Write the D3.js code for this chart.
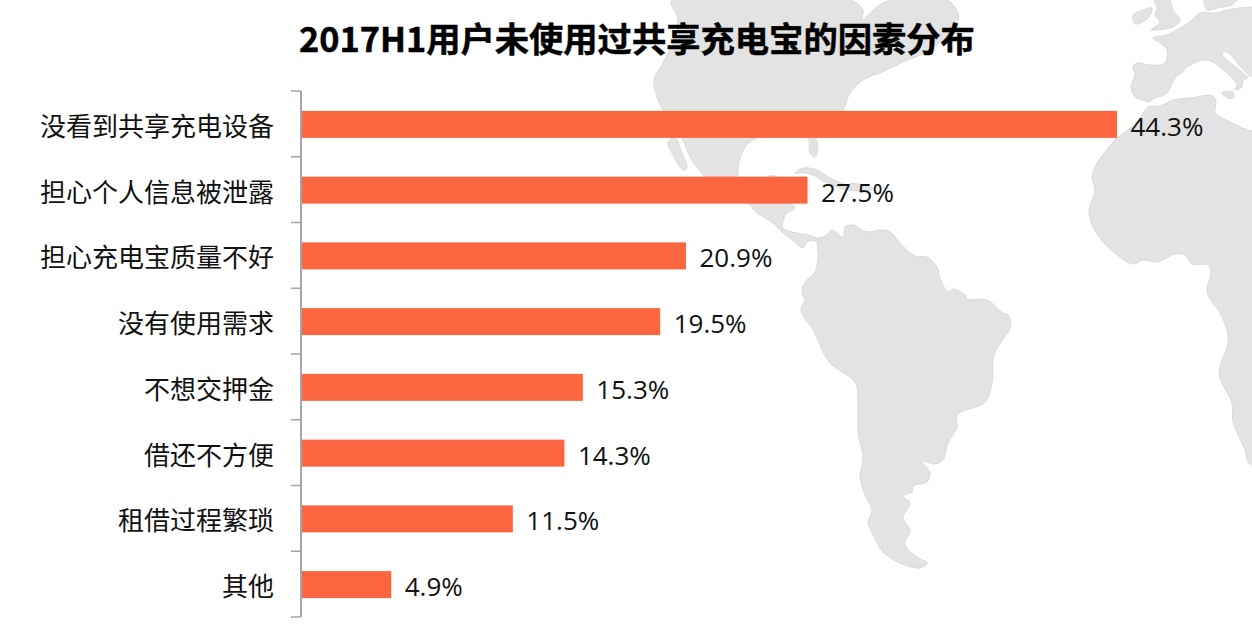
<!DOCTYPE html>
<html>
<head>
<meta charset="utf-8">
<script src="https://cdn.jsdelivr.net/npm/d3@7"></script>
<style>
  html, body { margin: 0; padding: 0; background: #fff; }
  svg { display: block; }
  text { font-family: "Noto Sans CJK SC", "Open Sans", sans-serif; fill: #111; }
</style>
</head>
<body>
<div id="chart"></div>
<script>
// Chart data
var chartTitle = "2017H1用户未使用过共享充电宝的因素分布";
var categories = ["没看到共享充电设备", "担心个人信息被泄露", "担心充电宝质量不好", "没有使用需求", "不想交押金", "借还不方便", "租借过程繁琐", "其他"];
var values = [44.3, 27.5, 20.9, 19.5, 15.3, 14.3, 11.5, 4.9];

// Background world map outlines, traced by hand in page pixels
var northAmerica = [[672,0],[678,20],[673,43],[663,63],[654,80],[657,97],[663,110],[672,125],[682,138],[690,157],[703,175],[720,197],[747,203],[757,213],[773,223],[783,233],[790,238],[803,248],[807,242],[815,241],[820,246],[827,236],[818,238],[808,235],[797,233],[783,228],[786,214],[795,208],[792,204],[785,195],[775,176],[765,178],[760,197],[745,195],[738,173],[745,147],[757,138],[790,130],[808,138],[810,153],[815,157],[818,147],[817,138],[830,125],[843,110],[850,93],[863,80],[882,72],[903,62],[930,50],[957,23],[958,13],[947,0],[890,0],[873,10],[870,13],[862,20],[863,10],[850,0]];
var baja = [[668,142],[675,138],[682,153],[687,168],[683,170],[673,155]];
var cuba = [[795,173],[803,168],[817,170],[830,178],[847,185],[867,190],[847,190],[827,183],[813,175],[803,173]];
var hispaniola = [[850,184],[863,185],[873,189],[862,191],[852,189]];
var southAmerica = [[818,243],[827,235],[832,230],[843,237],[845,227],[853,225],[867,232],[880,230],[890,232],[902,245],[915,256],[927,257],[937,267],[940,278],[948,292],[953,289],[965,295],[967,299],[987,300],[1003,313],[1008,315],[1011,325],[994,355],[992,383],[985,402],[957,415],[957,427],[948,443],[943,460],[935,464],[922,461],[930,473],[927,482],[913,486],[912,492],[903,496],[910,503],[903,518],[910,530],[905,545],[917,557],[927,563],[920,568],[900,563],[883,552],[872,532],[868,523],[872,510],[865,495],[860,477],[863,457],[858,433],[858,403],[855,382],[830,363],[813,330],[801,310],[805,300],[802,293],[805,282],[815,272],[818,257]];
var africa = [[1148,107],[1160,106],[1173,100],[1190,98],[1213,96],[1216,103],[1215,112],[1230,122],[1252,131],[1262,131],[1262,470],[1252,465],[1248,462],[1245,450],[1233,422],[1232,403],[1220,378],[1220,367],[1228,343],[1227,330],[1220,313],[1207,292],[1211,273],[1208,265],[1192,264],[1185,255],[1175,254],[1157,262],[1143,260],[1133,264],[1108,247],[1093,227],[1089,210],[1095,190],[1092,177],[1097,163],[1109,147],[1117,138],[1128,130],[1140,118]];
var europe = [[1252,7],[1227,10],[1217,13],[1200,13],[1190,22],[1180,28],[1167,35],[1153,38],[1160,43],[1167,50],[1165,63],[1150,65],[1137,63],[1133,67],[1135,75],[1131,87],[1135,97],[1143,100],[1148,102],[1155,98],[1167,93],[1175,78],[1183,72],[1187,67],[1207,60],[1227,73],[1237,85],[1235,90],[1242,87],[1243,80],[1248,78],[1237,68],[1225,58],[1222,53],[1227,52],[1240,66],[1252,77],[1262,77],[1262,7]];
var ireland = [[1133,15],[1143,10],[1152,8],[1148,18],[1135,24]];
var britain = [[1152,-6],[1167,-6],[1173,10],[1180,20],[1173,27],[1157,30],[1151,30],[1160,22],[1155,15],[1157,8]];
var scandinavia = [[1205,-6],[1207,10],[1217,8],[1233,4],[1240,-6]];
var sicily = [[1222,93],[1233,92],[1233,98],[1228,98]];
var landShapes = [northAmerica, baja, cuba, hispaniola, southAmerica, africa, europe, ireland, britain, scandinavia, sicily];

var width = 1252, height = 642;
var axisX = 301, axisTop = 91, axisBottom = 617;

var svg = d3.select("#chart").append("svg")
    .attr("width", width)
    .attr("height", height);

// Map goes in first so the bars sit on top of it
var outline = d3.line().curve(d3.curveCatmullRomClosed.alpha(0.5));
svg.append("g").selectAll("path")
    .data(landShapes)
    .join("path")
    .attr("d", d => outline(d))
    .attr("fill", "#e3e3e3")
    .attr("stroke", "#dadada")
    .attr("stroke-width", 1)
    .attr("stroke-linejoin", "round");

var x = d3.scaleLinear().domain([0, 44.3]).range([axisX, 1117]);
var y = d3.scaleBand().domain(categories).range([axisTop, axisBottom]);

// Bars
svg.append("g").selectAll("rect")
    .data(values)
    .join("rect")
    .attr("x", axisX)
    .attr("y", (d, i) => y(categories[i]) + y.bandwidth() / 2 - 13)
    .attr("width", d => x(d) - axisX)
    .attr("height", 27)
    .attr("fill", "#fb6540");

// Axis line with ticks between the categories
var axis = svg.append("g").attr("stroke", "#a6a6a6").attr("fill", "none");
axis.append("line")
    .attr("x1", axisX).attr("x2", axisX)
    .attr("y1", axisTop).attr("y2", axisBottom)
    .attr("stroke-width", 2);
axis.selectAll("line.tick")
    .data(d3.range(categories.length + 1))
    .join("line")
    .attr("class", "tick")
    .attr("x1", axisX - 10).attr("x2", axisX)
    .attr("y1", i => axisTop + i * y.step())
    .attr("y2", i => axisTop + i * y.step())
    .attr("stroke-width", 1.5);

// Category labels
svg.append("g").selectAll("text")
    .data(categories)
    .join("text")
    .attr("x", 274)
    .attr("y", d => y(d) + y.bandwidth() / 2 + 12)
    .attr("text-anchor", "end")
    .attr("font-size", 26)
    .text(d => d);

// Value labels
svg.append("g").selectAll("text")
    .data(values)
    .join("text")
    .attr("x", d => x(d) + 13.5)
    .attr("y", (d, i) => y(categories[i]) + y.bandwidth() / 2 + 12)
    .attr("font-size", 26)
    .attr("style", "font-family:'Open Sans',sans-serif")
    .text(d => d.toFixed(1) + "%");

// Title
svg.append("text")
    .attr("x", 299)
    .attr("y", 52)
    .attr("font-size", 34.3)
    .attr("font-weight", "bold")
    .attr("style", "fill:#000;stroke:#000;stroke-width:0.5")
    .text(chartTitle);
</script>
</body>
</html>
